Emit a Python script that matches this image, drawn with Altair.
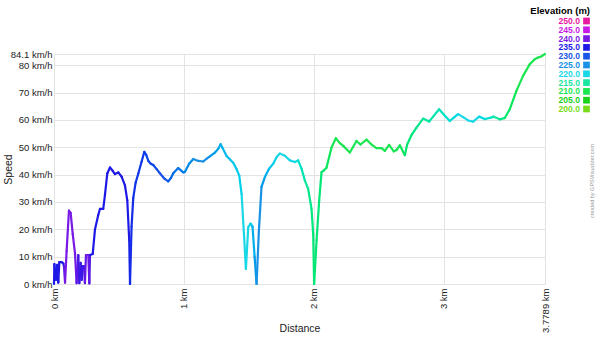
import altair as alt
import pandas as pd

# ---- data ----
dist = [0.0, 0.003, 0.015, 0.025, 0.033, 0.041, 0.059, 0.072, 0.077, 0.085,
        0.097, 0.115, 0.128, 0.144, 0.162, 0.174, 0.187, 0.195, 0.205, 0.213,
        0.221, 0.231, 0.238, 0.246, 0.264, 0.272, 0.277, 0.298, 0.315, 0.341,
        0.354, 0.379, 0.392, 0.41, 0.431, 0.45, 0.469, 0.495, 0.521, 0.546,
        0.564, 0.579, 0.585, 0.597, 0.61, 0.628, 0.649, 0.674, 0.695, 0.71,
        0.726, 0.745, 0.764, 0.79, 0.815, 0.85, 0.879, 0.9, 0.918, 0.956,
        0.995, 1.008, 1.04, 1.072, 1.11, 1.149, 1.175, 1.2, 1.238, 1.265,
        1.282, 1.3, 1.328, 1.355, 1.379, 1.405, 1.426, 1.444, 1.462, 1.477,
        1.495, 1.513, 1.528, 1.544, 1.559, 1.577, 1.597, 1.623, 1.656, 1.687,
        1.715, 1.738, 1.777, 1.815, 1.854, 1.879, 1.905, 1.931, 1.956, 1.982,
        1.995, 2.002, 2.021, 2.041, 2.059, 2.077, 2.097, 2.136, 2.169, 2.2,
        2.226, 2.277, 2.328, 2.359, 2.405, 2.444, 2.482, 2.521, 2.546, 2.579,
        2.615, 2.636, 2.662, 2.7, 2.718, 2.751, 2.79, 2.841, 2.887, 2.918,
        2.964, 3.008, 3.046, 3.077, 3.11, 3.149, 3.187, 3.226, 3.272, 3.315,
        3.367, 3.385, 3.431, 3.469, 3.508, 3.559, 3.61, 3.662, 3.7, 3.725,
        3.751, 3.7789]

speed = [0, 7.3, 1.5, 7, 0.5, 8, 8, 7.5, 6.3, 0.5,
         12, 26.8, 26, 18.3, 11, 0.3, 10.6, 0.3, 7.7, 1.5,
         6.5, 6.5, 0.3, 10.6, 10.6, 0.2, 10.6, 11, 19.8, 25.3,
         27.5, 27.5, 32.5, 40.4, 42.6, 41.5, 40.2, 40.8, 39.2, 36.1,
         30.6, 16, 0, 21, 31.5, 37, 40.4, 44.7, 48.3, 47.2,
         45, 44, 43.5, 42, 40.5, 38.5, 37.5, 38.8, 40.5, 42.4,
         40.8, 41, 44, 45.7, 45, 44.8, 45.8, 46.7, 48, 49.5,
         51.1, 49.5, 46.8, 45.5, 44.3, 42, 39.6, 32.8, 18.2, 5.5,
         20.8, 22.1, 21, 10, 0, 19.6, 35.5, 39.1, 42.2, 44,
         46.5, 47.7, 46.9, 45.2, 44.6, 45.2, 42.2, 37.8, 34.8, 27.5,
         18.2, 0, 16, 30.6, 40.9, 41.5, 42.5, 49.9, 53.3, 51.5,
         50.5, 48.1, 52.3, 51, 52.8, 51, 49.7, 49.7, 48.7, 50.9,
         48.5, 49, 50.7, 47.1, 51, 54.4, 57.2, 60.5, 59.4, 61.2,
         63.9, 61.5, 59.6, 60.8, 62.1, 61, 59.8, 59.4, 61.2, 60.3,
         60.9, 61.2, 60.2, 60.7, 63.9, 70.6, 76.1, 80.4, 82.2, 82.8,
         83.2, 84.1]

elevation = [235, 235, 235, 235, 235, 235, 235, 235, 236, 240,
             240, 240, 240, 240, 240, 239, 237, 236, 236, 236,
             236, 236, 237, 240, 240, 240, 235, 235, 235, 235,
             235, 235, 235, 235, 235, 235, 235, 235, 235, 235,
             235, 235, 234, 234, 234, 233, 233, 233, 233, 232,
             232, 232, 232, 231, 231, 230, 230, 229, 228, 228,
             227, 226, 226, 225, 225, 225, 225, 225, 224, 224,
             223, 223, 222, 222, 221, 221, 221, 220, 220, 220,
             220, 220, 222, 224, 225, 225, 225, 224, 222, 221,
             220, 220, 220, 220, 220, 218, 217, 215, 214, 213,
             212, 212, 212, 212, 212, 211, 211, 210, 210, 210,
             210, 210, 210, 210, 210, 210, 210, 210, 210, 210,
             210, 210, 210, 211, 212, 212, 213, 214, 215, 216,
             216, 217, 218, 219, 220, 220, 220, 220, 220, 219,
             217, 216, 214, 212, 211, 210, 210, 210, 210, 210,
             210, 210]

legend_values = [250.0, 245.0, 240.0, 235.0, 230.0, 225.0, 220.0, 215.0, 210.0, 205.0, 200.0]
legend_labels = ["250.0", "245.0", "240.0", "235.0", "230.0", "225.0", "220.0", "215.0", "210.0", "205.0", "200.0"]
color_domain = [200, 205, 210, 215, 220, 225, 230, 235, 240, 245, 250]
color_range = ["#78dc19", "#19d219", "#19e650", "#19e6a0", "#19d7e6", "#1991e6",
               "#1955e6", "#1e19e6", "#7819e6", "#c819e6", "#e619a0"]
y_ticks = [0, 10, 20, 30, 40, 50, 60, 70, 80, 84.1]
x_ticks = [0, 1, 2, 3, 3.7789]

FONT = "Liberation Sans"

segs = pd.DataFrame({
    "d": dist[:-1], "d2": dist[1:],
    "v": speed[:-1], "v2": speed[1:],
    "e": [(a + b) / 2 for a, b in zip(elevation[:-1], elevation[1:])],
})

cscale = alt.Scale(domain=color_domain, range=color_range, type="linear")

line = alt.Chart(segs).mark_rule(strokeWidth=2.2, strokeCap="round").encode(
    x=alt.X("d:Q",
            scale=alt.Scale(domain=[0, 3.7789], nice=False, zero=False),
            axis=alt.Axis(values=x_ticks, labelExpr="datum.value + ' km'",
                          labelAngle=-90, labelAlign="right", labelBaseline="middle",
                          labelPadding=4, labelFlush=False, labelOverlap=False,
                          ticks=False, domain=False, title="Distance",
                          titleX=245.5, titleY=44, titleAlign="center",
                          titleBaseline="middle")),
    x2="d2:Q",
    y=alt.Y("v:Q",
            scale=alt.Scale(domain=[0, 84.1], nice=False),
            axis=alt.Axis(values=y_ticks, labelExpr="datum.value + ' km/h'",
                          labelPadding=2, labelFlush=False, labelOverlap=False,
                          ticks=False, domain=False, title="Speed",
                          titleAngle=-90, titleX=-46, titleY=115,
                          titleAlign="center", titleBaseline="middle")),
    y2="v2:Q",
    color=alt.Color("e:Q", scale=cscale, legend=None),
)

leg_df = pd.DataFrame({"val": legend_values, "lab": legend_labels})
leg_y = alt.Y("lab:O", sort=legend_labels,
              scale=alt.Scale(type="point", range=[-33, 55], padding=0), axis=None)

leg_text = alt.Chart(leg_df).mark_text(
    align="right", baseline="middle", font=FONT, fontWeight="bold", fontSize=8.6
).encode(
    x=alt.value(526), y=leg_y, text="lab:N",
    color=alt.Color("val:Q", scale=cscale, legend=None),
)

leg_sq = alt.Chart(leg_df).mark_square(size=45, filled=True, opacity=1).encode(
    x=alt.value(532.5), y=leg_y,
    color=alt.Color("val:Q", scale=cscale, legend=None),
)

leg_title = alt.Chart(pd.DataFrame({"t": ["Elevation (m)"]})).mark_text(
    align="right", baseline="middle", font=FONT, fontWeight="bold", fontSize=9.5,
    color="#000000"
).encode(x=alt.value(536), y=alt.value(-43), text="t:N")

credit = alt.Chart(pd.DataFrame({"t": ["created by GPSVisualizer.com"]})).mark_text(
    align="center", baseline="middle", font=FONT, fontSize=5.5, angle=270,
    color="#9a9a9a"
).encode(x=alt.value(538), y=alt.value(127), text="t:N")

chart = alt.layer(line, leg_text, leg_sq, leg_title, credit).resolve_scale(
    y="independent"
).properties(
    width=491, height=230,
    autosize=alt.AutoSizeParams(type="none"),
    padding={"left": 54, "top": 54, "right": 55, "bottom": 54},
).configure_view(stroke=None).configure_axis(
    labelFont=FONT, labelFontSize=9.5, labelColor="#222222",
    titleFont=FONT, titleFontSize=10.5, titleColor="#222222", titleFontWeight="normal",
    gridColor="#e3e3e3", gridWidth=1,
)

chart.save("out.html", embed_options={"renderer": "svg", "actions": False})
